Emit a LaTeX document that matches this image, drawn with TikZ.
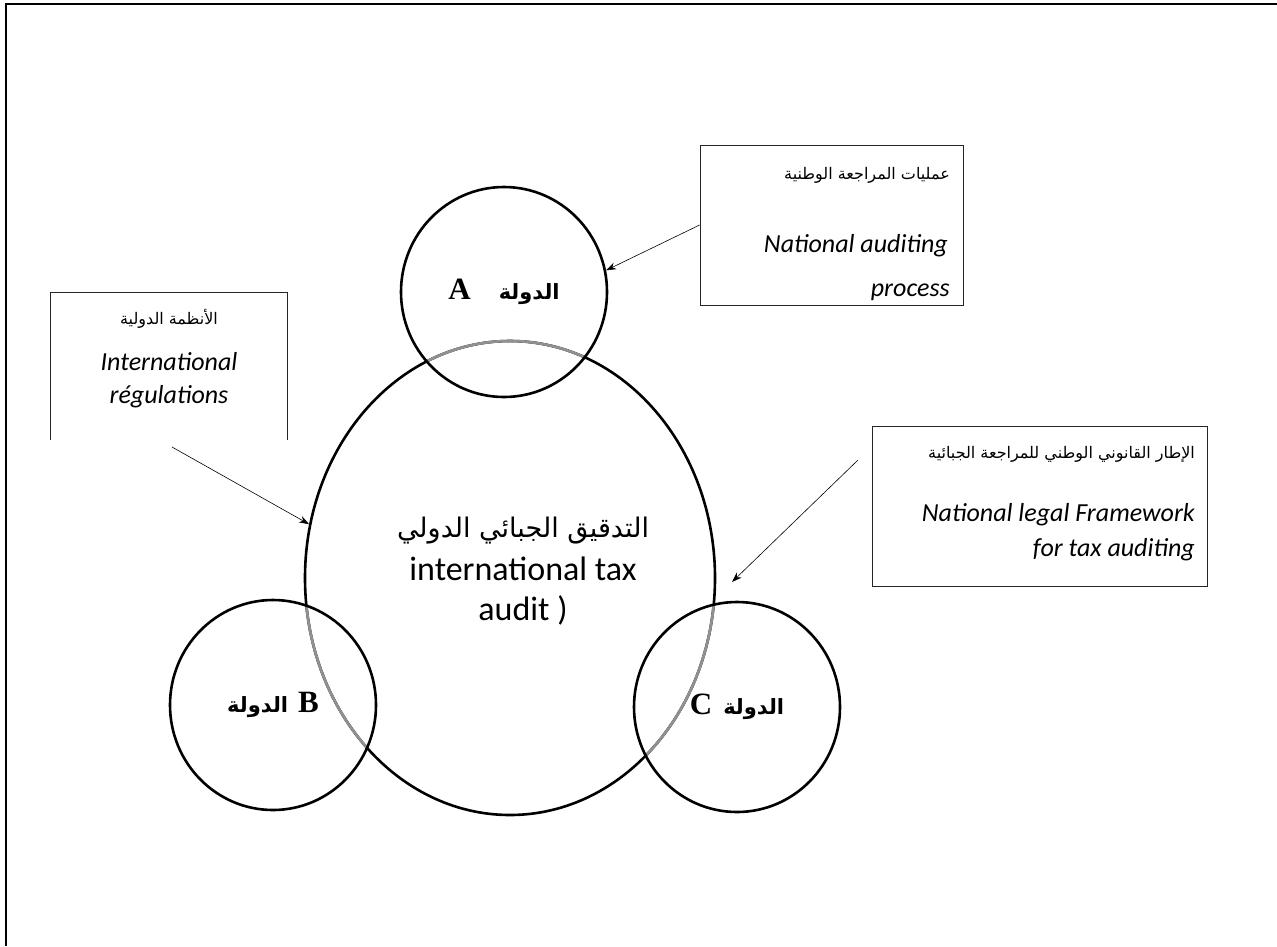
\documentclass[tikz,border=0pt]{standalone}
\usepackage{fontspec}
\setmainfont{Liberation Serif}
\newfontfamily\calib{Carlito}
\newfontfamily\arabicfont[Script=Arabic]{DejaVu Sans}
\TeXXeTstate=1
\usetikzlibrary{shapes.geometric,arrows.meta}
\definecolor{overlapgray}{RGB}{145,145,145}

\begin{document}
\begin{tikzpicture}[x=1pt,y=-1pt,
  country/.style={ellipse,draw=black,line width=2.6pt,inner sep=0pt,minimum width=206pt,minimum height=210pt,font=\fontsize{31}{31}\selectfont\bfseries},
  infobox/.style={rectangle,inner sep=0pt},
  boxline/.style={draw=black!85,line width=0.8pt},
  pointer/.style={-{Stealth[length=10pt,width=7pt]},line width=0.6pt},
  artxt/.style={inner sep=0pt,font=\fontsize{16}{16}\selectfont\arabicfont},
  entxt/.style={inner sep=0pt,font=\fontsize{26}{26}\selectfont\calib\itshape}]
\useasboundingbox (0,0) rectangle (1277,946);
\draw[line width=2.4pt] (6,946) -- (6,4) -- (1277,4);

\node[ellipse,draw=black,line width=2.6pt,inner sep=0pt,minimum width=410pt,minimum height=474pt] (audit) at (510,578) {};
\foreach \cx/\cy in {504/292,273/705,737/707}{
  \begin{scope}
    \clip (\cx,\cy) circle [radius=104];
    \draw[overlapgray,line width=2.6pt] (audit.center) ellipse [x radius=205,y radius=237];
  \end{scope}
}
\node[country] (circA) at (504,292) {A\hspace{28pt}{\arabicfont\fontsize{21}{21}\selectfont\beginR الدولة\endR}};
\node[country] (circB) at (273,705) {{\arabicfont\fontsize{21}{21}\selectfont\beginR الدولة\endR}\hspace{10pt}B};
\node[country] (circC) at (737,707) {C\hspace{11pt}{\arabicfont\fontsize{21}{21}\selectfont\beginR الدولة\endR}};

\node[anchor=base,inner sep=0pt,font=\fontsize{27}{27}\selectfont\arabicfont] (auditar) at (523,537) {\beginR التدقيق الجبائي الدولي\endR};
\node[anchor=base,inner sep=0pt,font=\fontsize{34}{34}\selectfont\calib] (auditen) at (523,580) {international tax};
\node[anchor=base,inner sep=0pt,font=\fontsize{34}{34}\selectfont\calib] (auditend) at (523,620) {audit )};

\node[infobox,boxline,minimum width=263pt,minimum height=160pt] (natbox) at (831.5,225) {};
\node[artxt,anchor=base east] (natar) at (950,179) {\beginR عمليات المراجعة الوطنية\endR};
\node[entxt,anchor=base east] (naten) at (948,252) {National auditing};
\node[entxt,anchor=base east] (natend) at (950,296) {process};

\node[infobox,minimum width=236pt,minimum height=147pt] (regbox) at (169,366.5) {};
\draw[boxline] (regbox.south west) -- (regbox.north west) -- (regbox.north east) -- (regbox.south east);
\node[artxt,anchor=base] (regar) at (169,324) {\beginR الأنظمة الدولية\endR};
\node[entxt,anchor=base] (regen) at (169,370) {International};
\node[entxt,anchor=base] (regend) at (169,403) {régulations};

\node[infobox,boxline,minimum width=335pt,minimum height=160pt] (lawbox) at (1039.5,506) {};
\node[artxt,anchor=base east] (lawar) at (1195,458) {\beginR الإطار القانوني الوطني للمراجعة الجبائية\endR};
\node[entxt,anchor=base east] (lawen) at (1195,521) {National legal Framework};
\node[entxt,anchor=base east] (lawend) at (1195,556) {for tax auditing};

\coordinate (regtail) at (172,447);
\coordinate (lawtail) at (858,460);
\coordinate (lawtip) at (732,582);
\draw[pointer] (natbox.west) -- (circA.12);
\draw[pointer] (regtail) -- (audit.165);
\draw[pointer] (lawtail) -- (lawtip);
\end{tikzpicture}
\end{document}
